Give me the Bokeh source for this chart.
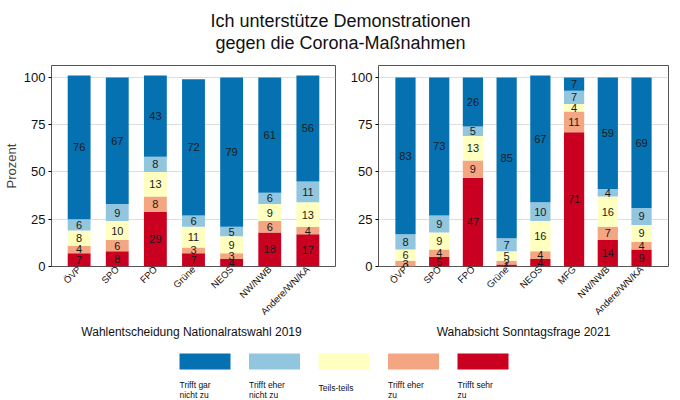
import math
from bokeh.plotting import figure
from bokeh.models import ColumnDataSource, FactorRange, Range1d, FixedTicker
from bokeh.layouts import column, row
from bokeh.embed import file_html
from bokeh.resources import INLINE
from bokeh.core.properties import value

FONT = "Liberation Sans"

title_lines = ["Ich unterstütze Demonstrationen", "gegen die Corona-Maßnahmen"]

parties_2019 = ["ÖVP", "SPÖ", "FPÖ", "Grüne", "NEOS", "NW/NWB", "Andere/WN/KA"]
sehr_2019 = [7, 8, 29, 7, 4, 18, 17]
eher_zu_2019 = [4, 6, 8, 3, 3, 6, 4]
teils_2019 = [8, 10, 13, 11, 9, 9, 13]
eher_nicht_2019 = [6, 9, 8, 6, 5, 6, 11]
gar_nicht_2019 = [76, 67, 43, 72, 79, 61, 56]

parties_2021 = ["ÖVP", "SPÖ", "FPÖ", "Grüne", "NEOS", "MFG", "NW/NWB", "Andere/WN/KA"]
sehr_2021 = [0, 5, 47, 1, 4, 71, 14, 9]
eher_zu_2021 = [3, 4, 9, 2, 4, 11, 7, 4]
teils_2021 = [6, 9, 13, 5, 16, 4, 16, 9]
eher_nicht_2021 = [8, 9, 5, 7, 10, 7, 4, 9]
gar_nicht_2021 = [83, 73, 26, 85, 67, 7, 59, 69]

# legend order (left to right)
legend_labels = ["Trifft gar\nnicht zu", "Trifft eher\nnicht zu", "Teils-teils", "Trifft eher\nzu", "Trifft sehr\nzu"]
legend_colors = ["#0571b0", "#92c5de", "#ffffbf", "#f4a582", "#ca0020"]

y_ticks = [0, 25, 50, 75, 100]

subtitles = ["Wahlentscheidung Nationalratswahl 2019", "Wahabsicht Sonntagsfrage 2021"]

HEAD_H = 58
PANEL_H = 265


def panel(parties, series, width, pad, min_left, min_right, ylabel):
    keys = ["s0", "s1", "s2", "s3", "s4"]  # bottom -> top
    stack_colors = list(reversed(legend_colors))
    data = {"party": parties}
    for k, s in zip(keys, series):
        data[k] = s
    src = ColumnDataSource(data)
    p = figure(
        x_range=FactorRange(*parties, range_padding=pad, range_padding_units="absolute"),
        y_range=Range1d(0, 106.3),
        width=width, height=PANEL_H,
        output_backend="svg", toolbar_location=None,
        min_border_top=7, min_border_right=min_right, min_border_left=min_left,
        min_border_bottom=0,
    )
    p.vbar_stack(keys, x="party", width=0.6, color=stack_colors, source=src, line_color=None)

    # value labels
    xs, ys, ts = [], [], []
    for i, party in enumerate(parties):
        cum = 0
        for s in series:
            v = s[i]
            xs.append(party)
            ys.append(cum + v / 2)
            ts.append(str(v))
            cum += v
    lsrc = ColumnDataSource(dict(x=xs, y=ys, t=ts))
    p.text(x="x", y="y", text="t", source=lsrc, text_align="center", text_baseline="middle",
           text_font=value(FONT), text_font_size="11px", text_color="#1a1a1a")

    p.outline_line_color = "#555555"
    p.outline_line_width = 1
    p.xgrid.grid_line_color = None
    p.ygrid.grid_line_color = "#dedede"
    p.ygrid.ticker = FixedTicker(ticks=y_ticks)
    p.yaxis.ticker = FixedTicker(ticks=y_ticks)
    p.yaxis.minor_tick_line_color = None
    p.yaxis.major_tick_in = 0
    p.yaxis.major_tick_out = 3
    p.yaxis.major_label_standoff = 3
    p.yaxis.axis_line_color = None
    p.yaxis.major_label_text_font = FONT
    p.yaxis.major_label_text_font_size = "13px"
    p.yaxis.major_label_text_color = "#111111"
    if ylabel:
        p.yaxis.axis_label = ylabel
        p.yaxis.axis_label_text_font = FONT
        p.yaxis.axis_label_text_font_size = "13px"
        p.yaxis.axis_label_text_font_style = "normal"
        p.yaxis.axis_label_standoff = 2
    p.xaxis.major_label_orientation = math.pi / 4
    p.xaxis.major_label_text_font = FONT
    p.xaxis.major_label_text_font_size = "9.5px"
    p.xaxis.major_label_text_color = "#111111"
    p.xaxis.major_tick_in = 0
    p.xaxis.major_tick_out = 0
    p.xaxis.major_label_standoff = 1
    p.xaxis.axis_line_color = None
    return p


p1 = panel(parties_2019, [sehr_2019, eher_zu_2019, teils_2019, eher_nicht_2019, gar_nicht_2019],
           340, 0.225, 47, 5, "Prozent")
p2 = panel(parties_2021, [sehr_2021, eher_zu_2021, teils_2021, eher_nicht_2021, gar_nicht_2021],
           340, 0.3, 38, 12, None)

# header
header = figure(width=680, height=HEAD_H, x_range=Range1d(0, 680), y_range=Range1d(HEAD_H, 0),
                output_backend="svg", toolbar_location=None, min_border=0)
header.axis.visible = False
header.grid.grid_line_color = None
header.outline_line_color = None
header.text(x=[340, 340], y=[20, 42], text=title_lines, text_align="center", text_baseline="middle",
            text_font=value(FONT), text_font_size="18px", text_color="#111111")

# bottom: subtitles + legend
LEG_H = 400 - HEAD_H - PANEL_H
off = HEAD_H + PANEL_H  # page y of this figure's top
leg = figure(width=680, height=LEG_H, x_range=Range1d(0, 680), y_range=Range1d(LEG_H, 0),
             output_backend="svg", toolbar_location=None, min_border=0)
leg.axis.visible = False
leg.grid.grid_line_color = None
leg.outline_line_color = None
leg.text(x=[191, 523], y=[331 - off] * 2, text=subtitles, text_align="center", text_baseline="middle",
         text_font=value(FONT), text_font_size="12px", text_color="#111111")
top0 = 353 - off
lefts = [179 + 69.5 * i for i in range(len(legend_labels))]
leg.quad(left=lefts, right=[l + 51 for l in lefts], top=[top0] * 5, bottom=[top0 + 16] * 5,
         color=legend_colors, line_color=None)
multi_idx = [i for i, l in enumerate(legend_labels) if "\n" in l]
single_idx = [i for i, l in enumerate(legend_labels) if "\n" not in l]
leg.text(x=[lefts[i] for i in multi_idx], y=[top0 + 26] * len(multi_idx),
         text=[legend_labels[i] for i in multi_idx], text_align="left", text_baseline="top",
         text_font=value(FONT), text_font_size="8.5px", text_color="#111111", text_line_height=1.0)
leg.text(x=[lefts[i] for i in single_idx], y=[top0 + 34] * len(single_idx),
         text=[legend_labels[i] for i in single_idx], text_align="left", text_baseline="middle",
         text_font=value(FONT), text_font_size="8.5px", text_color="#111111")

layout = column(header, row(p1, p2), leg)
open("out.html", "w").write(file_html(layout, INLINE))
